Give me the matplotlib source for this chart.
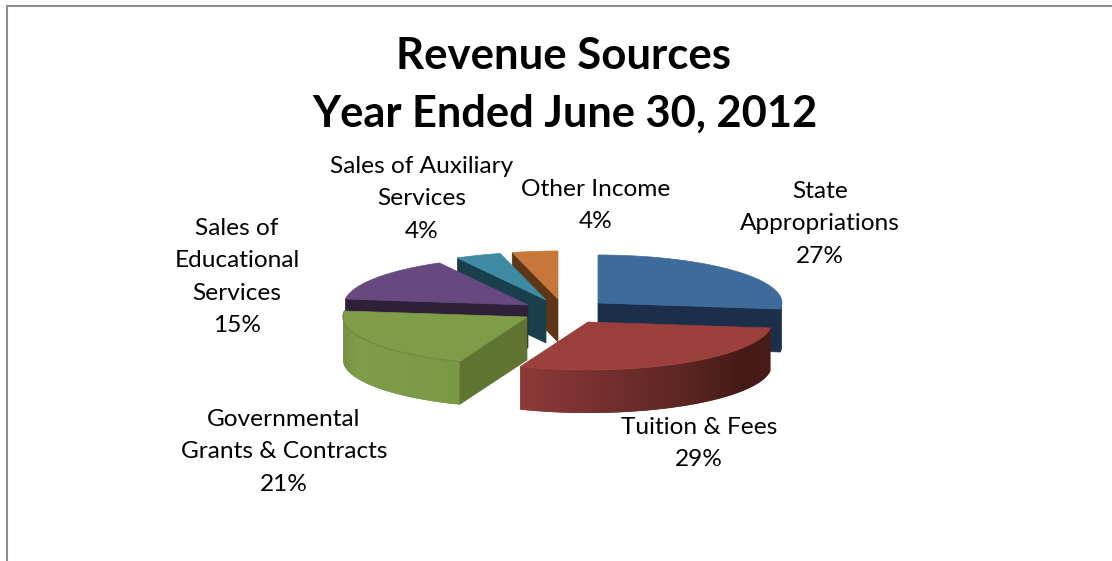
import numpy as np
import matplotlib
matplotlib.use("Agg")
from matplotlib import pyplot as plt
from matplotlib.colors import to_rgb

# Data
categories = ["State\nAppropriations", "Tuition & Fees", "Governmental\nGrants & Contracts",
              "Sales of\nEducational\nServices", "Sales of Auxiliary\nServices", "Other Income"]
shares = [27, 29, 21, 15, 4, 4]

# Pixel layout of the exploded slices
apex_x = [598, 588, 527, 528, 546, 558]
apex_y = [303, 322, 317, 305, 300, 299]
label_x = [820, 699, 284, 237, 422, 596]
label_top = [191, 427, 419, 228, 166, 189]
top_colors = ["#3f6a9c", "#9b3f3d", "#7f9c48", "#67497f", "#3f8ba3", "#c8773a"]
wall_colors = ["#1b2e4a", "#4a1c17", "#5f7430", "#2e2038", "#1a3f4c", "#5c3616"]
rim_stops = [["#1b2e4a", "#1b2e4a"],
             ["#8c3a38", "#742f2d", "#5c2521", "#451a16", "#481b16"],
             ["#6f8a3e", "#7f9c4a", "#7d9a48", "#7b9845"],
             ["#2e2038"], ["#1a3f4c"], ["#5c3616"]]
draw_order = [5, 4, 3, 0, 2, 1]

rx, ry, depth = 184, 48, 43

fig = plt.figure(figsize=(11.12, 5.61), dpi=100)
ax = fig.add_axes([0, 0, 1, 1])
ax.set_xlim(0, 1112)
ax.set_ylim(561, 0)
ax.axis("off")


def rim(cx, cy, t):
    t = np.radians(t)
    return cx + rx * np.sin(t), cy - ry * np.cos(t)


def shade(stops, f):
    rgb = np.array([to_rgb(c) for c in stops])
    pos = np.linspace(0, 1, len(stops))
    return [np.interp(f, pos, rgb[:, i]) for i in range(3)]


ends = np.cumsum(shares) / np.sum(shares) * 360
starts = ends - np.array(shares) / np.sum(shares) * 360

for i in draw_order:
    cx, cy = apex_x[i], apex_y[i]
    t0, t1 = starts[i], ends[i]

    # radial walls facing the viewer
    for t, visible in ((t0, t0 >= 180), (t1, t1 <= 180)):
        if visible:
            x, y = rim(cx, cy, t)
            ax.fill([cx, x, x, cx], [cy, y, y + depth, cy + depth],
                    color=wall_colors[i], lw=0.5, zorder=1)

    # outer rim, front half only
    a, b = max(t0, 90), min(t1, 270)
    if b > a:
        steps = np.linspace(a, b, 60)
        for n in range(len(steps) - 1):
            # overlap with the next step so no seams show
            x0, y0 = rim(cx, cy, steps[n])
            x1, y1 = rim(cx, cy, steps[min(n + 2, len(steps) - 1)])
            f = 1 - n / (len(steps) - 2)
            ax.fill([x0, x1, x1, x0], [y0, y1, y1 + depth, y0 + depth],
                    color=shade(rim_stops[i], f), lw=0, zorder=1)

    # top face
    ts = np.linspace(t0, t1, 80)
    xs, ys = rim(cx, cy, ts)
    ax.fill(np.r_[cx, xs], np.r_[cy, ys], color=top_colors[i], lw=0.5, zorder=1)
    if i == 2:
        # faint seam between top and rim on the green slice
        ax.plot(xs, ys, color="#6f8a3e", lw=0.8, zorder=1)

# chart border, cut off by the image on the right and at the bottom
ax.plot([6.5, 6.5, 1112], [561, 5.5, 5.5], color="#8c8c8c", lw=1.5, solid_joinstyle="miter")

ax.text(564, 56, "Revenue Sources", ha="center", va="center", fontsize=31.5,
        fontweight="bold", family="Lato", color="black")
ax.text(565, 114, "Year Ended June 30, 2012", ha="center", va="center", fontsize=31.2,
        fontweight="bold", family="Lato", color="black")

line_h = 32.5
for i, name in enumerate(categories):
    lines = name.split("\n") + ["%d%%" % shares[i]]
    for n, line in enumerate(lines):
        ax.text(label_x[i], label_top[i] + n * line_h, line, ha="center", va="center",
                fontsize=17.6, family="Lato", color="black")

fig.savefig("out.png", dpi=100)
